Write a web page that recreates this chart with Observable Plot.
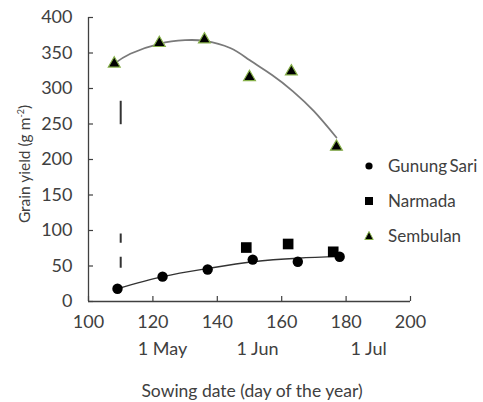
<!DOCTYPE html>
<html><head><meta charset="utf-8">
<script src="https://cdn.jsdelivr.net/npm/d3@7"></script>
<script src="https://cdn.jsdelivr.net/npm/@observablehq/plot@0.6"></script>
<style>
body{margin:0;background:#fff;font-family:Lato,sans-serif;color:#404040}
#wrap{position:relative;width:483px;height:402px;overflow:hidden}
#ytitle{position:absolute;left:24px;top:164px;transform:translate(-50%,-50%) rotate(-90deg);white-space:nowrap;font-size:15.5px}
#ytitle sup{font-size:9px;vertical-align:6px;line-height:0}
#xtitle{position:absolute;left:252px;top:390px;transform:translate(-50%,-50%);white-space:nowrap;font-size:17.5px}
#legend{position:absolute;left:362px;top:148px;width:121px}
.item{height:35px;display:flex;align-items:center;font-size:17px;white-space:nowrap}
.item span{word-spacing:-2px}
.item svg{width:14px;height:14px;margin-right:12px;flex:none}
</style></head>
<body><div id="wrap"><div id="chart"></div>
<div id="ytitle">Grain yield (g m<sup>-2</sup>)</div>
<div id="xtitle">Sowing date (day of the year)</div>
<div id="legend"></div>
</div>
<script>
// data
const xTicks = [100, 120, 140, 160, 180, 200];
const yTicks = [0, 50, 100, 150, 200, 250, 300, 350, 400];
const monthLabels = ["1 May", "1 Jun", "1 Jul"];
const monthPos = [123, 152.5, 187];

const seriesNames = ["Gunung Sari", "Narmada", "Sembulan"];

const gunungX = [109, 123, 137, 151, 165, 178];
const gunungY = [18, 35, 45, 59, 56, 63];
const narmadaX = [149, 162, 176];
const narmadaY = [76, 81, 70];
const sembulanX = [108, 122, 136, 150, 163, 177];
const sembulanY = [335, 364, 369, 316, 324, 218];

const gunungFitX = [109, 123, 137, 151, 165, 178];
const gunungFitY = [18, 35, 46.5, 56, 61, 63.5];
const sembulanFitX = [108, 113, 122, 130, 136, 144, 150, 157, 163.5, 170, 177];
const sembulanFitY = [335, 349, 363, 368, 367, 357, 340, 319, 296, 268, 231];

const lsdX = [110];
const lsdSembulanLow = [249], lsdSembulanHigh = [282];
const lsdGunungLow = [47], lsdGunungHigh = [95];

const zip = (xs, ys) => xs.map((x, i) => ({x, y: ys[i]}));
const gunung = zip(gunungX, gunungY);
const narmada = zip(narmadaX, narmadaY);
const sembulan = zip(sembulanX, sembulanY);
const gunungFit = zip(gunungFitX, gunungFitY);
const sembulanFit = zip(sembulanFitX, sembulanFitY);

const W = 483, H = 402, mt = 17, mb = 101, ml = 88, mr = 73;
const plotH = H - mt - mb, plotW = W - ml - mr;
const ink = "#404040";
const green = "#86b04a";

const chart = Plot.plot({
  width: W, height: H,
  marginTop: mt, marginBottom: mb, marginLeft: ml, marginRight: mr,
  x: {domain: [100, 200], axis: null},
  y: {domain: [0, 400], axis: null},
  style: {fontFamily: "Lato, sans-serif", fontSize: "18px", color: ink, background: "white", overflow: "visible"},
  marks: [
    Plot.ruleY([0], {stroke: ink, strokeWidth: 1.3}),
    Plot.ruleX([100], {stroke: ink, strokeWidth: 1.3}),
    Plot.tickX(xTicks, {x: d => d, insetTop: plotH - 5, stroke: ink, strokeWidth: 1.2}),
    Plot.tickY(yTicks, {y: d => d, insetRight: plotW - 5, stroke: ink, strokeWidth: 1.2}),
    Plot.text(xTicks, {x: d => d, text: d => String(d), frameAnchor: "bottom", dy: 26, fill: ink}),
    Plot.text(yTicks, {y: d => d, text: d => String(d), frameAnchor: "left", dx: -16, textAnchor: "end", fill: ink}),
    Plot.text(monthLabels, {x: (d, i) => monthPos[i], text: d => d, frameAnchor: "bottom", dy: 53, fill: ink, fontSize: 18}),
    Plot.ruleX(lsdX, {x: d => d, y1: (d, i) => lsdSembulanLow[i], y2: (d, i) => lsdSembulanHigh[i], stroke: "#333", strokeWidth: 2}),
    Plot.ruleX(lsdX, {x: d => d, y1: (d, i) => lsdGunungLow[i], y2: (d, i) => lsdGunungHigh[i], stroke: "#333", strokeWidth: 2, strokeDasharray: "11,14"}),
    Plot.line(sembulanFit, {x: "x", y: "y", stroke: "#7a7a7a", strokeWidth: 1.8, curve: "natural"}),
    Plot.line(gunungFit, {x: "x", y: "y", stroke: "#333", strokeWidth: 1.4, curve: "natural"}),
    Plot.dot(sembulan, {x: "x", y: "y", symbol: "triangle", r: 4.4, fill: "black", stroke: green, strokeWidth: 1.2}),
    Plot.dot(narmada, {x: "x", y: "y", symbol: "square", r: 6, fill: "black"}),
    Plot.dot(gunung, {x: "x", y: "y", symbol: "circle", r: 5.2, fill: "black"})
  ]
});
document.getElementById("chart").appendChild(chart);

// legend
const symbols = {
  "Gunung Sari": `<circle cx="7" cy="7" r="3.6" fill="black"/>`,
  "Narmada": `<rect x="3" y="3" width="8" height="8" fill="black"/>`,
  "Sembulan": `<path d="M7,2.5L11.2,10.5H2.8Z" fill="black" stroke="${green}" stroke-width="1"/>`
};
const legend = document.getElementById("legend");
seriesNames.forEach(name => {
  const row = document.createElement("div");
  row.className = "item";
  row.innerHTML = `<svg viewBox="0 0 14 14">${symbols[name]}</svg><span>${name}</span>`;
  legend.appendChild(row);
});
</script>
</body></html>
